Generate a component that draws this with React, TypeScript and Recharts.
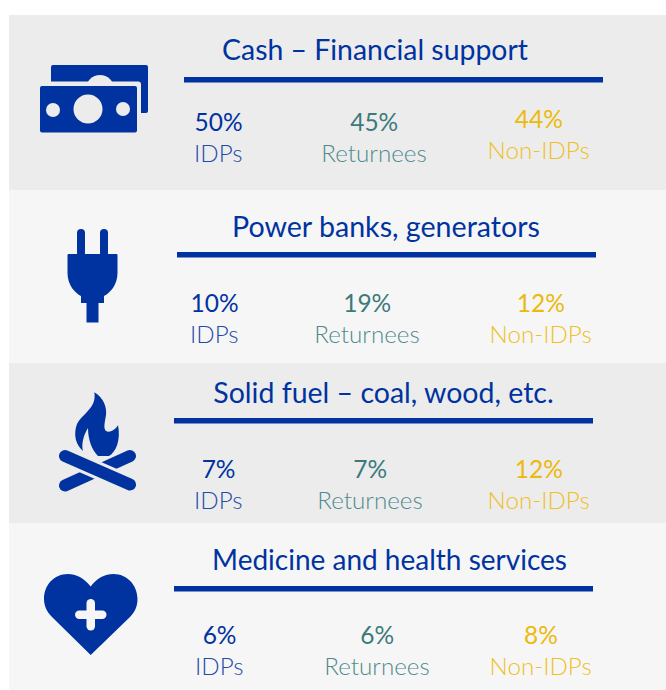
import { BarChart, Bar, XAxis, YAxis, LabelList, Customized } from "recharts";

const groups = ["IDPs", "Returnees", "Non-IDPs"];
const titles = [
  "Cash – Financial support",
  "Power banks, generators",
  "Solid fuel – coal, wood, etc.",
  "Medicine and health services",
];
const cashValues = [50, 45, 44];
const powerValues = [10, 19, 12];
const fuelValues = [7, 7, 12];
const medicineValues = [6, 6, 8];

const BLUE = "#0033a0";
const valueColors = [BLUE, "#3c7a7c", "#ecb90d"];
const labelColors = ["#1f4ba8", "#4f8a8c", "#eec124"];
const FONT = "Lato, sans-serif";

// page geometry of each band, kept apart from the data
const bands = [
  { top: 15, bottom: 190, fill: "#ececec", valueBase: 131, titleX: 375, titleBase: 60, titleSize: 28.4, ruleX: 184, ruleY: 77, nudge: [1, -4, 0], lift: [0, 0, 3] },
  { top: 190, bottom: 363, fill: "#f6f6f6", valueBase: 312, titleX: 386, titleBase: 237, titleSize: 28.6, ruleX: 177, ruleY: 252, nudge: [-3, -11, 2], lift: [0, 0, 0] },
  { top: 363, bottom: 523, fill: "#ececec", valueBase: 478, titleX: 383.5, titleBase: 403, titleSize: 28.5, ruleX: 174, ruleY: 418, nudge: [1, -8, 0], lift: [0, 0, 0] },
  { top: 523, bottom: 690, fill: "#f6f6f6", valueBase: 644, titleX: 389.5, titleBase: 570, titleSize: 28, ruleX: 174, ruleY: 586, nudge: [2, -1, 2], lift: [0, 0, 0] },
];
const LEFT = 9;
const WIDTH = 657;

function CashIcon({ bg }: { bg: string }) {
  return (
    <g fill={BLUE}>
      <rect x={51} y={65} width={97} height={48} rx={2} />
      <circle cx={100} cy={89} r={14} fill={bg} />
      <rect x={37} y={81.5} width={104} height={55} rx={3} fill={bg} />
      <rect x={40} y={86} width={97} height={46.5} rx={2} />
      <circle cx={88} cy={109} r={14.5} fill={bg} />
      <circle cx={53} cy={110} r={7} fill={bg} />
      <circle cx={123} cy={109} r={7} fill={bg} />
    </g>
  );
}

function PlugIcon() {
  return (
    <g fill={BLUE}>
      <rect x={77} y={229} width={8} height={28} rx={4} />
      <rect x={100} y={229} width={8} height={28} rx={4} />
      <path d="M67.5 255 Q67.5 254 68.5 254 H116.5 Q117.5 254 117.5 255 V273 C117.5 285 110 293 104 296 V303 H98.5 V322.5 H86.5 V303 H81 V296 C75 293 67.5 285 67.5 273 Z" />
    </g>
  );
}

function FireIcon({ bg }: { bg: string }) {
  return (
    <g>
      <path
        fill={BLUE}
        d="M94.3 392.3 C104 398 107 408 106 415 C105 422 103 428 106 431 C110 434 117 428 118 425 C121 440 116 452 109 456 C105 456 102 456 98 456 C92 450 88 440 88 428 C84 434 81 444 83 451 C76 445 73 435 77 424 C83 413 97 408 94.3 392.3 Z"
      />
      <line x1={130} y1={456} x2={65} y2={485.5} stroke={BLUE} strokeWidth={12} strokeLinecap="round" />
      <line x1={65} y1={456} x2={130} y2={484.5} stroke={bg} strokeWidth={18} />
      <line x1={65} y1={456} x2={130} y2={484.5} stroke={BLUE} strokeWidth={12} strokeLinecap="round" />
    </g>
  );
}

function HeartIcon({ bg }: { bg: string }) {
  return (
    <g>
      <path
        fill={BLUE}
        d="M90.7 586.5 C84 578 76 574 68 574 C54 574 44 585 44 599 C44 606 47 612 52 617 L90.7 655 L130 617 C135 612 137.5 606 137.5 599 C137.5 585 127 574 113.5 574 C105 574 97 578 90.7 586.5 Z"
      />
      <rect x={75} y={610.5} width={31.5} height={8.5} rx={4.2} fill={bg} />
      <rect x={86.5} y={599} width={8.5} height={31.5} rx={4.2} fill={bg} />
    </g>
  );
}

const icons = [CashIcon, PlugIcon, FireIcon, HeartIcon];

function Band({ row, values }: { row: number; values: number[] }) {
  const band = bands[row];
  const height = band.bottom - band.top;
  const data = groups.map((group, i) => ({ group, value: values[i] }));
  const Icon = icons[row];

  const renderValue = (props: any) => {
    const box = props.viewBox ?? props;
    const i = props.index;
    return (
      <text
        x={box.x + box.width / 2 + band.nudge[i]}
        y={box.y + box.height - band.lift[i]}
        textAnchor="middle"
        fontFamily={FONT}
        fontSize={24.5}
        fill={valueColors[i]}
      >
        {props.value}%
      </text>
    );
  };

  const renderTick = (props: any) => {
    const i = props.index;
    return (
      <text
        x={props.x + band.nudge[i]}
        y={props.y + 31 - band.lift[i]}
        textAnchor="middle"
        fontFamily={FONT}
        fontWeight={300}
        fontSize={24.2}
        fill={labelColors[i]}
      >
        {props.payload.value}
      </text>
    );
  };

  return (
    <div style={{ position: "absolute", left: LEFT, top: band.top, width: WIDTH, height, background: band.fill }}>
      <BarChart
        width={WIDTH}
        height={height}
        data={data}
        margin={{ top: 0, right: 47, left: 128, bottom: band.bottom - band.valueBase - 40 }}
      >
        <XAxis dataKey="group" height={40} axisLine={false} tickLine={false} tickSize={0} tickMargin={0} interval={0} tick={renderTick} />
        <YAxis hide domain={[0, 100]} />
        <Bar dataKey="value" fill="transparent" isAnimationActive={false}>
          <LabelList dataKey="value" content={renderValue} />
        </Bar>
        <Customized
          component={() => (
            <g transform={`translate(${-LEFT} ${-band.top})`}>
              <Icon bg={band.fill} />
              <text x={band.titleX} y={band.titleBase} textAnchor="middle" fontFamily={FONT} fontSize={band.titleSize} fill={BLUE}>
                {titles[row]}
              </text>
              <rect x={band.ruleX} y={band.ruleY} width={419} height={5.5} fill={BLUE} />
            </g>
          )}
        />
      </BarChart>
    </div>
  );
}

export default function App() {
  return (
    <div style={{ position: "absolute", left: 0, top: 0, width: 666, height: 690, background: "#fff" }}>
      <Band row={0} values={cashValues} />
      <Band row={1} values={powerValues} />
      <Band row={2} values={fuelValues} />
      <Band row={3} values={medicineValues} />
    </div>
  );
}
